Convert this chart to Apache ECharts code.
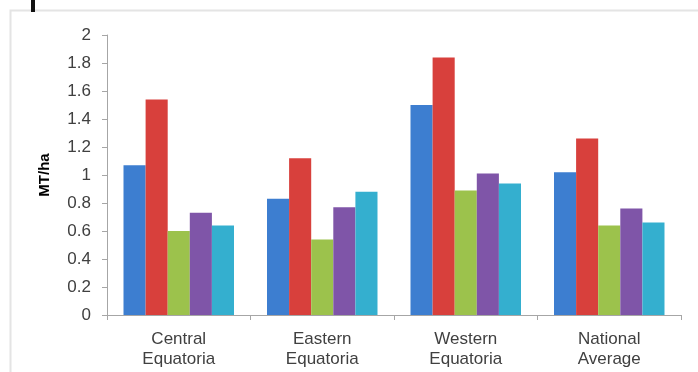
<!DOCTYPE html>
<html>
<head>
<meta charset="utf-8">
<script src="https://cdn.jsdelivr.net/npm/echarts@6/dist/echarts.min.js"></script>
<style>
  html, body { margin: 0; padding: 0; background: #ffffff; }
  #chart { width: 698px; height: 372px; }
</style>
</head>
<body>
<div id="chart"></div>
<script>
// Yield (MT/ha) by region, five series per region
const categories = ['Central\nEquatoria', 'Eastern\nEquatoria', 'Western\nEquatoria', 'National\nAverage'];
const series1 = [1.07, 0.83, 1.50, 1.02];
const series2 = [1.54, 1.12, 1.84, 1.26];
const series3 = [0.60, 0.54, 0.89, 0.64];
const series4 = [0.73, 0.77, 1.01, 0.76];
const series5 = [0.64, 0.88, 0.94, 0.66];
const yTicks = ['0', '0.2', '0.4', '0.6', '0.8', '1', '1.2', '1.4', '1.6', '1.8', '2'];

const colors = ['#3d7ed0', '#d8403c', '#9cc24c', '#7f55a8', '#34afcf'];
const allSeries = [series1, series2, series3, series4, series5];

const chart = echarts.init(document.getElementById('chart'), null, { renderer: 'canvas' });
chart.setOption({
  animation: false,
  backgroundColor: '#ffffff',
  textStyle: { fontFamily: 'Liberation Sans, Arial, sans-serif' },
  graphic: [
    { type: 'rect', shape: { x: 10.5, y: 10.5, width: 700, height: 380 },
      style: { fill: 'none', stroke: '#e4e4e4', lineWidth: 2 } },
    { type: 'rect', shape: { x: 31, y: 0, width: 4, height: 12 }, style: { fill: '#111' } }
  ],
  grid: { left: 107, right: 17, top: 35, bottom: 57 },
  xAxis: {
    type: 'category',
    data: categories,
    axisLine: { lineStyle: { color: '#a6a6a6', width: 1 } },
    axisTick: { show: true, length: 5, lineStyle: { color: '#a6a6a6' } },
    axisLabel: { color: '#404040', fontSize: 17, lineHeight: 20, margin: 14 }
  },
  yAxis: {
    type: 'value',
    min: 0, max: 2, interval: 0.2,
    name: 'MT/ha',
    nameLocation: 'middle',
    nameGap: 55,
    nameRotate: 90,
    nameTextStyle: { color: '#000', fontSize: 15, fontWeight: 'bold' },
    axisLine: { show: true, lineStyle: { color: '#a6a6a6' } },
    axisTick: { show: true, length: 5, lineStyle: { color: '#a6a6a6' } },
    splitLine: { show: false },
    axisLabel: {
      color: '#404040', fontSize: 17, margin: 16,
      formatter: v => yTicks[Math.round(v / 0.2)]
    }
  },
  series: allSeries.map((d, i) => ({
    type: 'bar',
    data: d,
    barGap: '0%',
    barCategoryGap: '23%',
    itemStyle: { color: colors[i] }
  }))
});
</script>
</body>
</html>
